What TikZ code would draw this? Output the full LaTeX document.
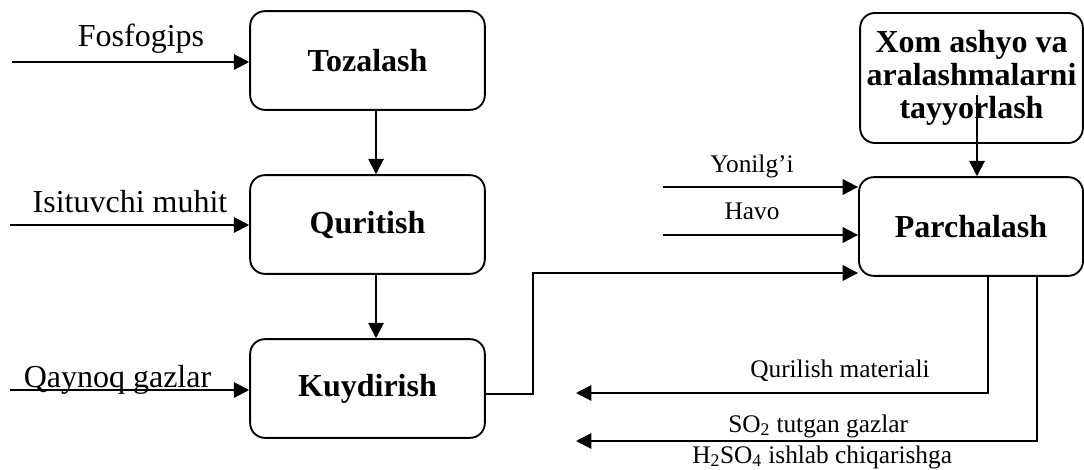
\documentclass[tikz,border=0pt]{standalone}
\usepackage{fontspec}
\setmainfont{Liberation Serif}
\usetikzlibrary{arrows.meta, calc}

\begin{document}
\begin{tikzpicture}[x=0.75pt, y=-0.75pt]
  \tikzstyle{box}=[draw, line width=1.4pt, rounded corners=11pt, minimum width=176pt, minimum height=74pt, inner sep=0pt, align=center, font=\fontsize{24}{25}\selectfont\bfseries]
  \tikzstyle{flow}=[-{Triangle[length=11.5pt,width=11.5pt]}, line width=1.5pt]
  \tikzstyle{lbig}=[anchor=base, inner sep=0pt, font=\fontsize{24}{27}\selectfont]
  \tikzstyle{lsmall}=[anchor=base, inner sep=0pt, font=\fontsize{19}{22}\selectfont]

  \useasboundingbox (0,0) rectangle (1084,470);

  \node[box] (A) at (367.5, 60.5) {Tozalash}; % Top-left box
  \node[box] (B) at (367.5, 224.5) {Quritish};
  \node[box] (C) at (367.5, 388.5) {Kuydirish};
  \node[box, minimum width=168pt] (D) at (971, 226.5) {Parchalash}; % Right box
  \node[box, minimum width=167pt, minimum height=97.5pt] (E) at (971.5, 78) {Xom ashyo va\\aralashmalarni\\tayyorlash}; % Top-right box

  \node[lbig] (F) at (141, 47) {Fosfogips};
  \node[lbig] (G) at (130, 213) {Isituvchi muhit};
  \node[lbig] (H) at (117.5, 387) {Qaynoq gazlar};
  \coordinate (F0) at (12, 62);
  \coordinate (G0) at (10, 225);
  \coordinate (H0) at (10, 390);
  \draw[flow] (F0) -- (F0 -| A.west); % Left input arrows
  \draw[flow] (G0) -- (G0 -| B.west);
  \draw[flow] (H0) -- (H0 -| C.west);

  \draw[flow] ($(A.south)+(8.5,0)$) -- ($(B.north)+(8.5,0)$); % Down arrows
  \draw[flow] ($(B.south)+(8.5,0)$) -- ($(C.north)+(8.5,0)$);
  \draw[flow] ($(C.east)+(0,5.5)$) -- ++(47,0) |- ($(D.west)+(0,46.5)$); % Kuydirish to Parchalash

  \node[lsmall] (I) at (752, 173) {Yonilg’i};
  \node[lsmall] (J) at (752, 220) {Havo};
  \coordinate (I0) at (663, 187);
  \coordinate (J0) at (663, 235);
  \draw[flow] (I0) -- (I0 -| D.west); % Right input arrows
  \draw[flow] (J0) -- (J0 -| D.west);
  \coordinate (E0) at (977, 95);
  \draw[flow] (E0) -- (E0 |- D.north); % Top-right arrow

  \coordinate (K0) at (576, 393);
  \coordinate (L0) at (576, 441);
  \draw[flow] ($(D.south)+(17,0)$) |- (K0); % Output arrows
  \draw[flow] ($(D.south)+(66,0)$) |- (L0);
  \node[lsmall] (K) at (840, 377) {Qurilish materiali};
  \node[lsmall, anchor=base west] (L) at (728, 432) {SO\textsubscript{2} tutgan gazlar};
  \node[lsmall, anchor=base west] (M) at (692, 463) {H\textsubscript{2}SO\textsubscript{4} ishlab chiqarishga};
\end{tikzpicture}
\end{document}
